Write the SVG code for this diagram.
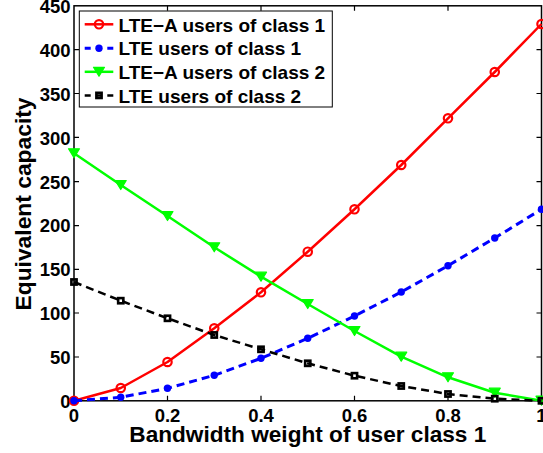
<svg xmlns="http://www.w3.org/2000/svg" width="543" height="453" viewBox="0 0 543 453">
<style>
text{font-family:"Liberation Sans",Arial,Helvetica,sans-serif;font-weight:bold;fill:#000}
.tick{font-size:18.5px}
.yl{text-anchor:end}
.xl{text-anchor:middle}
.lg{font-size:18.5px}
.axis{fill:none;stroke:#000;stroke-width:1.5}
.tk{stroke:#000;stroke-width:1.2}
.red{fill:none;stroke:#ff0000;stroke-width:2.5;stroke-linejoin:round}
.blue{fill:none;stroke:#0000ff;stroke-width:3;stroke-dasharray:8 5}
.green{fill:none;stroke:#00ff00;stroke-width:2.5;stroke-linejoin:round}
.black{fill:none;stroke:#000;stroke-width:2.5;stroke-dasharray:8 5}
</style>
<defs>
<marker id="mc" viewBox="0 0 14 14" refX="7" refY="7" markerWidth="14" markerHeight="14" markerUnits="userSpaceOnUse"><circle cx="7" cy="7" r="4.2" fill="none" stroke="#ff0000" stroke-width="2.2"/></marker>
<marker id="md" viewBox="0 0 10 10" refX="5" refY="5" markerWidth="10" markerHeight="10" markerUnits="userSpaceOnUse"><circle cx="5" cy="5" r="3.7" fill="#0000ff"/></marker>
<marker id="mt" viewBox="0 0 14 14" refX="7" refY="7" markerWidth="14" markerHeight="14" markerUnits="userSpaceOnUse"><polygon points="1.5,2.5 12.5,2.5 7,11.5" fill="#00ff00" stroke="#00ff00" stroke-width="1.2" stroke-linejoin="round"/></marker>
<marker id="ms" viewBox="0 0 12 12" refX="6" refY="6" markerWidth="12" markerHeight="12" markerUnits="userSpaceOnUse"><rect x="3.4" y="3.4" width="5.2" height="5.2" fill="none" stroke="#000" stroke-width="2.6"/></marker>
</defs>
<rect x="0" y="0" width="543" height="453" fill="#fff"/>
<g id="axes">
<rect class="axis" x="74" y="5.8" width="467.5" height="395"/>
<path class="tk" d="M74,357h5M74,313h5M74,269.3h5M74,225.7h5M74,181.7h5M74,137.3h5M74,93.5h5M74,49.7h5M541.5,357h-5M541.5,313h-5M541.5,269.3h-5M541.5,225.7h-5M541.5,181.7h-5M541.5,137.3h-5M541.5,93.5h-5M541.5,49.7h-5M167.5,400.8v-5M261,400.8v-5M354.5,400.8v-5M448,400.8v-5M167.5,5.8v5M261,5.8v5M354.5,5.8v5M448,5.8v5"/>
<g class="tick yl">
<text x="70.5" y="407.5">0</text>
<text x="70.5" y="363.7">50</text>
<text x="70.5" y="319.9">100</text>
<text x="70.5" y="276.1">150</text>
<text x="70.5" y="232.3">200</text>
<text x="70.5" y="188.5">250</text>
<text x="70.5" y="144.7">300</text>
<text x="70.5" y="100.9">350</text>
<text x="70.5" y="57.1">400</text>
<text x="70.5" y="13.3">450</text>
</g>
<g class="tick xl">
<text x="74" y="421.7">0</text>
<text x="167.5" y="421.7">0.2</text>
<text x="261" y="421.7">0.4</text>
<text x="354.5" y="421.7">0.6</text>
<text x="448" y="421.7">0.8</text>
<text x="541.5" y="421.7">1</text>
</g>
<text x="307.8" y="441.7" font-size="21.5" text-anchor="middle" textLength="357" lengthAdjust="spacingAndGlyphs">Bandwidth weight of user class 1</text>
<text transform="translate(31,204) rotate(-90)" font-size="22" text-anchor="middle" textLength="213" lengthAdjust="spacingAndGlyphs">Equivalent capacity</text>
</g>
<g id="connectors">
<polyline id="lte-a-class1" class="red" marker-start="url(#mc)" marker-mid="url(#mc)" marker-end="url(#mc)" points="74,400.8 120.75,388 167.5,362 214.25,328.3 261,292.3 307.75,251.7 354.5,209.3 401.25,165 448,118.3 494.75,72 541.5,24"/>
<polyline id="lte-class1" class="blue" marker-start="url(#md)" marker-mid="url(#md)" marker-end="url(#md)" points="74,400.8 120.75,397.3 167.5,388.3 214.25,375.3 261,358.3 307.75,338.3 354.5,316 401.25,292 448,265.7 494.75,238 541.5,209.3"/>
<polyline id="lte-a-class2" class="green" marker-start="url(#mt)" marker-mid="url(#mt)" marker-end="url(#mt)" points="74,153.3 120.75,185 167.5,216 214.25,247.3 261,276.7 307.75,304 354.5,331 401.25,356.7 448,377.3 494.75,392.7 541.5,400.7"/>
<polyline id="lte-class2" class="black" marker-start="url(#ms)" marker-mid="url(#ms)" marker-end="url(#ms)" points="74,282 120.75,300.7 167.5,318.3 214.25,335 261,349.3 307.75,363.3 354.5,375.7 401.25,386 448,394 494.75,398.7 541.5,400.8"/>
</g>
<g id="legend">
<rect x="79.3" y="11" width="253" height="96" fill="#fff" stroke="#000" stroke-width="1"/>
<polyline class="red" marker-mid="url(#mc)" points="84.7,24.3 99,24.3 113.3,24.3"/>
<polyline class="blue" marker-mid="url(#md)" points="84.7,48.2 99,48.2 113.3,48.2" style="stroke-dasharray:6 5.3"/>
<polyline class="green" marker-mid="url(#mt)" points="84.7,71.8 99,71.8 113.3,71.8"/>
<polyline class="black" marker-mid="url(#ms)" points="84.7,95.4 99,95.4 113.3,95.4" style="stroke-dasharray:6 5.3"/>
<g class="lg">
<text x="118.5" y="31.5" textLength="206.7" lengthAdjust="spacingAndGlyphs">LTE−A users of class 1</text>
<text x="118.5" y="55.4" textLength="182.7" lengthAdjust="spacingAndGlyphs">LTE users of class 1</text>
<text x="118.5" y="79" textLength="206.7" lengthAdjust="spacingAndGlyphs">LTE−A users of class 2</text>
<text x="118.5" y="102.6" textLength="182.7" lengthAdjust="spacingAndGlyphs">LTE users of class 2</text>
</g>
</g>
</svg>
